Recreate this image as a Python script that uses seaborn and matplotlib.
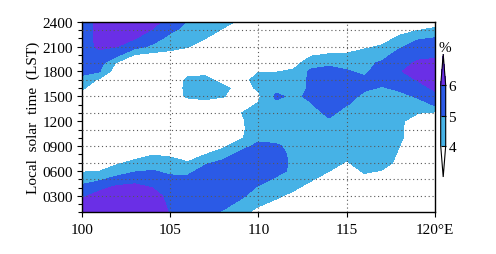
import numpy as np
import matplotlib
matplotlib.use("Agg")
import matplotlib.pyplot as plt
import seaborn as sns
from matplotlib.colors import ListedColormap, BoundaryNorm

# longitude (deg E) and local solar time (hour) of the grid
lons = list(range(100, 121))
hours = list(range(1, 25))

# percentage field, one row per hour (0100 ... 2400), columns 100E ... 120E
t0100 = [6.8, 6.8, 6.8, 6.8, 6.5, 5.95, 5.5, 5.35, 4.85, 4.3, 3.65, 3.2, 3.0, 3.0, 3.0, 3.0, 3.0, 3.0, 3.0, 3.0, 3.0]
t0200 = [6.35, 6.8, 6.8, 6.8, 6.45, 5.85, 5.5, 5.5, 5.35, 4.7, 4.15, 3.7, 3.2, 3.0, 3.0, 3.0, 3.0, 3.0, 3.0, 3.0, 3.0]
t0300 = [5.82, 6.35, 6.7, 6.8, 6.4, 5.7, 5.5, 5.5, 5.5, 5.2, 4.5, 4.2, 3.7, 3.1, 3.0, 3.0, 3.0, 3.0, 3.0, 3.0, 3.0]
t0400 = [5.24, 5.73, 6.2, 6.28, 5.98, 5.55, 5.45, 5.5, 5.5, 5.5, 4.88, 4.5, 4.2, 3.6, 3.0, 3.0, 3.15, 3.0, 3.0, 3.0, 3.0]
t0500 = [4.57, 4.83, 5.33, 5.65, 5.52, 5.25, 5.27, 5.5, 5.5, 5.5, 5.35, 4.86, 4.6, 4.1, 3.5, 3.0, 3.65, 3.45, 3.2, 3.0, 3.0]
t0600 = [3.9, 3.98, 4.5, 4.9, 5.05, 4.77, 4.71, 5.4, 5.55, 5.5, 5.5, 5.3, 4.8, 4.5, 4.02, 3.4, 4.15, 3.95, 3.5, 3.0, 3.0]
t0700 = [3.4, 3.5, 3.85, 4.21, 4.5, 4.32, 4.06, 4.83, 5.25, 5.55, 5.5, 5.3, 4.85, 4.5, 4.5, 3.9, 4.6, 4.3, 3.8, 3.0, 3.0]
t0800 = [3.0, 3.0, 3.35, 3.65, 3.95, 3.85, 3.55, 3.98, 4.55, 5.3, 5.55, 5.3, 4.8, 4.5, 4.5, 4.4, 4.5, 4.4, 3.9, 3.0, 3.0]
t0900 = [3.0, 3.0, 3.0, 3.15, 3.45, 3.35, 3.05, 3.5, 3.8, 4.64, 5.25, 5.15, 4.7, 4.5, 4.5, 4.5, 4.5, 4.5, 4.0, 3.0, 3.0]
t1000 = [3.0, 3.0, 3.0, 3.0, 3.0, 3.0, 3.0, 3.0, 3.3, 3.85, 4.75, 4.65, 4.6, 4.5, 4.5, 4.5, 4.5, 4.55, 4.1, 3.6, 3.0]
t1100 = [3.0, 3.0, 3.0, 3.0, 3.0, 3.0, 3.0, 3.0, 3.0, 3.88, 4.35, 4.5, 4.5, 4.5, 4.5, 4.5, 4.5, 4.55, 4.1, 3.6, 3.0]
t1200 = [3.0, 3.0, 3.0, 3.0, 3.0, 3.0, 3.0, 3.0, 3.0, 3.88, 4.4, 4.5, 4.5, 4.5, 4.8, 4.5, 4.5, 4.55, 4.15, 3.6, 3.35]
t1300 = [3.0, 3.0, 3.0, 3.0, 3.0, 3.0, 3.1, 3.2, 3.0, 3.98, 4.3, 4.5, 4.55, 4.5, 5.3, 4.55, 4.5, 4.6, 4.3, 4.05, 3.85]
t1400 = [3.15, 3.0, 3.0, 3.0, 3.0, 3.0, 3.6, 3.7, 3.5, 3.8, 4.05, 4.8, 4.7, 4.95, 5.5, 5.05, 4.55, 4.6, 4.55, 4.58, 5.1]
t1500 = [3.65, 3.0, 3.0, 3.0, 3.0, 3.6, 4.1, 4.2, 4.05, 3.6, 3.85, 5.15, 4.85, 5.15, 5.5, 5.5, 4.7, 4.6, 4.7, 5.1, 5.67]
t1600 = [4.17, 3.35, 3.0, 3.0, 3.0, 3.6, 4.15, 4.5, 4.2, 3.7, 4.1, 4.75, 4.6, 5.15, 5.5, 5.55, 5.2, 4.9, 5.2, 5.57, 6.2]
t1700 = [4.72, 3.85, 3.0, 3.0, 3.0, 3.6, 4.1, 4.25, 3.7, 3.7, 4.3, 4.45, 4.6, 5.15, 5.5, 5.5, 5.2, 5.4, 5.5, 6.05, 6.6]
t1800 = [5.25, 5.05, 3.35, 3.0, 3.0, 3.0, 3.8, 3.75, 3.2, 3.5, 3.95, 3.95, 4.15, 5.2, 5.35, 5.1, 4.8, 5.5, 5.95, 6.3, 6.7]
t1900 = [5.5, 5.39, 3.85, 3.45, 3.2, 3.25, 3.3, 3.25, 3.0, 3.2, 3.45, 3.45, 3.65, 4.57, 4.79, 4.6, 4.75, 5.15, 5.6, 6.15, 6.25]
t2000 = [5.55, 5.75, 5.23, 3.95, 3.7, 3.75, 3.55, 3.0, 3.0, 3.0, 3.0, 3.0, 3.2, 3.9, 4.07, 4.1, 4.35, 4.63, 5.4, 5.73, 5.81]
t2100 = [5.6, 6.15, 6.02, 5.36, 4.8, 4.24, 4.05, 3.5, 3.0, 3.0, 3.0, 3.0, 3.0, 3.4, 3.55, 3.6, 3.85, 4.1, 4.87, 5.35, 5.42]
t2200 = [5.6, 6.2, 6.5, 6.05, 5.45, 4.71, 4.55, 4.02, 3.4, 3.2, 3.0, 3.0, 3.0, 3.0, 3.05, 3.1, 3.35, 3.6, 4.2, 4.9, 5.04]
t2300 = [5.6, 6.2, 6.8, 6.55, 5.95, 5.2, 4.7, 4.5, 3.9, 3.4, 3.0, 3.0, 3.0, 3.0, 3.0, 3.0, 3.0, 3.1, 3.65, 3.95, 4.18]
t2400 = [5.6, 6.2, 6.8, 6.8, 6.45, 5.5, 4.95, 4.55, 4.4, 3.78, 3.0, 3.0, 3.0, 3.0, 3.0, 3.0, 3.0, 3.0, 3.3, 3.5, 3.6]

levels = [4, 5, 6]
fill_colors = ["#46b2e6", "#2b5ae6"]
over_color = "#6a2fe6"
under_color = "white"

ytick_hours = [3, 6, 9, 12, 15, 18, 21, 24]
ytick_labels = ["0300", "0600", "0900", "1200", "1500", "1800", "2100", "2400"]
xtick_lons = [100, 105, 110, 115, 120]
xtick_labels = ["100", "105", "110", "115", "120°E"]
grid_hours = [3, 5, 7, 9, 11, 13, 15, 17, 19, 21, 23]
grid_lons = [105, 110, 115]

pct = np.array([t0100, t0200, t0300, t0400, t0500, t0600, t0700, t0800,
                t0900, t1000, t1100, t1200, t1300, t1400, t1500, t1600,
                t1700, t1800, t1900, t2000, t2100, t2200, t2300, t2400])

sns.set_theme(style="ticks", rc={"axes.edgecolor": "black", "xtick.color": "black",
                                 "ytick.color": "black", "text.color": "black",
                                 "axes.labelcolor": "black"})
plt.rcParams["font.family"] = ["Liberation Serif", "DejaVu Serif"]
fs = 11

fig = plt.figure(figsize=(4.96, 2.55), dpi=100)
ax = fig.add_axes([0.1647, 0.163, 0.7123, 0.748])

cmap = ListedColormap(fill_colors)
cmap.set_under(under_color)
cmap.set_over(over_color)
norm = BoundaryNorm(levels, cmap.N)
cf = ax.contourf(lons, hours, pct, levels=levels, cmap=cmap, norm=norm, extend="both")

for h in grid_hours:
    ax.axhline(h, color="0.35", lw=0.8, ls=(0, (1, 2.5)), zorder=3)
for x in grid_lons:
    ax.axvline(x, color="0.35", lw=0.8, ls=(0, (1, 2.5)), zorder=3)

ax.set_xlim(100, 120)
ax.set_ylim(1, 24)
ax.set_xticks(xtick_lons)
ax.set_xticklabels(xtick_labels, fontsize=fs)
ax.set_yticks(ytick_hours)
ax.set_yticklabels(ytick_labels, fontsize=fs)
ax.set_yticks(hours, minor=True)
ax.tick_params(axis="x", which="major", direction="out", length=3.5, width=0.8, pad=4)
ax.tick_params(axis="y", which="major", direction="out", length=3.5, width=0.8, pad=2.5)
ax.tick_params(axis="y", which="minor", direction="out", length=3, width=0.8)
ax.set_ylabel("Local  solar  time  (LST)", fontsize=fs, labelpad=2)
for sp in ax.spines.values():
    sp.set_linewidth(1.0)
    sp.set_color("black")

cax = fig.add_axes([0.8885, 0.302, 0.0101, 0.482])
cb = fig.colorbar(cf, cax=cax, ticks=levels, extendfrac=0.52, drawedges=True)
cb.outline.set_linewidth(0.8)
cb.dividers.set_linewidth(0.8)
cb.ax.tick_params(length=0, pad=2, labelsize=fs)
fig.text(445 / 496, 1 - 49 / 255, "%", ha="center", va="center", fontsize=fs)

fig.savefig("out.png", dpi=100)
